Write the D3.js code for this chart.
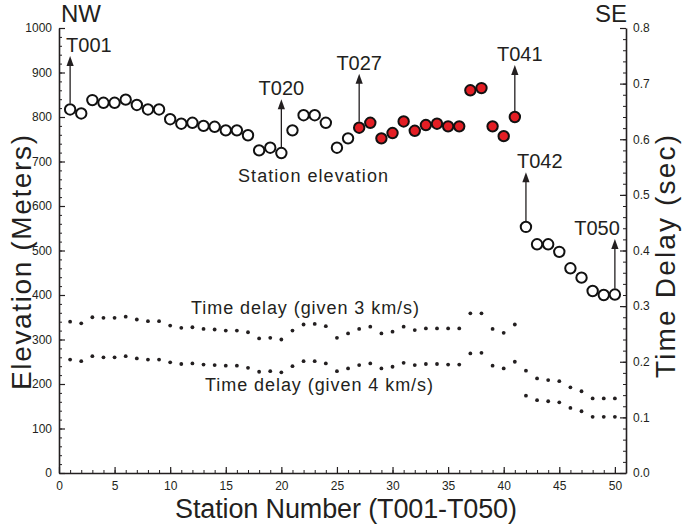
<!DOCTYPE html>
<html><head><meta charset="utf-8">
<script src="https://cdn.jsdelivr.net/npm/d3@7"></script>
<style>body{margin:0;background:#fff}svg{display:block}text{font-family:Arial,"Liberation Sans",sans-serif;fill:#231f20}</style>
</head><body><svg id="c" width="685" height="524"></svg>
<script>
// ---- data ----
const stations = d3.range(1, 51);
const elevation = [817,808,838,832,832,839,827,817,817,795,785,787,780,778,770,770,759,725,731,719,
  770,804,804,787,731,752,776,787,752,764,790,769,782,785,779,779,860,865,779,757,
  800,553,514,514,497,460,439,409,400,401];
const redStations = [27,28,29,30,31,32,33,34,35,36,37,38,39,40,41];
const delay3 = [0.272,0.269,0.280,0.279,0.279,0.281,0.276,0.273,0.273,0.265,0.261,0.262,0.259,0.258,0.256,0.256,0.253,0.242,0.243,0.240,
  0.256,0.267,0.268,0.264,0.243,0.251,0.259,0.263,0.251,0.254,0.263,0.257,0.260,0.260,0.260,0.260,0.287,0.287,0.259,0.252,
  0.267,0.184,0.170,0.167,0.165,0.154,0.147,0.134,0.134,0.134];
const delay4 = [0.204,0.201,0.210,0.208,0.208,0.210,0.206,0.204,0.204,0.199,0.196,0.197,0.195,0.194,0.193,0.193,0.189,0.182,0.183,0.181,
  0.192,0.201,0.201,0.197,0.183,0.188,0.194,0.197,0.188,0.191,0.198,0.194,0.196,0.196,0.195,0.195,0.215,0.216,0.193,0.188,
  0.200,0.139,0.131,0.129,0.127,0.117,0.111,0.101,0.101,0.101];
const annStations = [1,20,27,41,42,50];
const annLabels = ["T001","T020","T027","T041","T042","T050"];
const annTipElev = [937,840,897,917,676,526];
const xTicks = d3.range(0, 51, 5);
const leftTicks = d3.range(0, 1001, 100);
const rightTicks = [0,0.1,0.2,0.3,0.4,0.5,0.6,0.7,0.8];

// ---- layout ----
const svg = d3.select("#c");
const L = 59, R = 626, B = 473, T = 28;
const x = d3.scaleLinear().domain([0, 51]).range([L, R]);
const yL = d3.scaleLinear().domain([0, 1000]).range([B, T]);
const yR = d3.scaleLinear().domain([0, 0.8]).range([B, T]);
const ink = "#231f20";

function styleAxis(g, fs){
  g.selectAll("path.domain").attr("stroke", ink).attr("stroke-width", 1.6);
  g.selectAll(".tick line").attr("stroke", ink).attr("stroke-width", 1.2);
  g.selectAll("text").attr("font-size", fs).attr("fill", ink).attr("font-family", "Arial, 'Liberation Sans', sans-serif");
}
// minor ticks
svg.append("g").attr("transform", `translate(${L},0)`)
  .call(d3.axisLeft(yL).tickValues(d3.range(0,1001,20)).tickSizeInner(-3).tickSizeOuter(0).tickFormat(""))
  .call(g => { g.select(".domain").remove(); g.selectAll("line").attr("stroke", ink); });
svg.append("g").attr("transform", `translate(${R},0)`)
  .call(d3.axisRight(yR).tickValues(d3.range(0,0.8001,0.02)).tickSizeInner(-3).tickSizeOuter(0).tickFormat(""))
  .call(g => { g.select(".domain").remove(); g.selectAll("line").attr("stroke", ink); });
svg.append("g").attr("transform", `translate(0,${B})`)
  .call(d3.axisBottom(x).tickValues(d3.range(0,51,1)).tickSizeInner(-3).tickSizeOuter(0).tickFormat(""))
  .call(g => { g.select(".domain").remove(); g.selectAll("line").attr("stroke", ink); });
// major axes
svg.append("g").attr("transform", `translate(${L},0)`)
  .call(d3.axisLeft(yL).tickValues(leftTicks).tickSizeInner(-6).tickSizeOuter(0).tickPadding(7).tickFormat(d3.format("d")))
  .call(g => styleAxis(g, 12));
svg.append("g").attr("transform", `translate(${R},0)`)
  .call(d3.axisRight(yR).tickValues(rightTicks).tickSizeInner(-6).tickSizeOuter(0).tickPadding(7).tickFormat(d3.format(".1f")))
  .call(g => styleAxis(g, 12));
svg.append("g").attr("transform", `translate(0,${B})`)
  .call(d3.axisBottom(x).tickValues(xTicks).tickSizeInner(-6).tickSizeOuter(0).tickPadding(8).tickFormat(d3.format("d")))
  .call(g => styleAxis(g, 12));

// time delay dots
[delay3, delay4].forEach(arr => {
  svg.append("g").selectAll("circle").data(arr).join("circle")
    .attr("cx", (d,i) => x(stations[i])).attr("cy", d => yR(d)).attr("r", 1.9).attr("fill", ink);
});

// arrows
const annLayout = {
  T001:{anchor:"start", dx:-4}, T020:{anchor:"middle", dx:0}, T027:{anchor:"middle", dx:0},
  T041:{anchor:"middle", dx:5}, T042:{anchor:"start", dx:-9}, T050:{anchor:"end", dx:5}
};
annStations.forEach((s, i) => {
  const cx = x(s), cy = yL(elevation[s-1]), tip = yL(annTipElev[i]);
  svg.append("line").attr("x1", cx).attr("x2", cx).attr("y1", cy - 6).attr("y2", tip + 8)
    .attr("stroke", ink).attr("stroke-width", 1.3);
  svg.append("path").attr("d", `M${cx},${tip} L${cx-3.6},${tip+10} L${cx+3.6},${tip+10} Z`).attr("fill", ink);
  const lay = annLayout[annLabels[i]];
  svg.append("text").attr("x", cx + lay.dx).attr("y", tip - 4).attr("text-anchor", lay.anchor)
    .attr("font-size", 20).text(annLabels[i]);
});

// elevation circles
svg.append("g").selectAll("circle").data(elevation).join("circle")
  .attr("cx", (d,i) => x(stations[i])).attr("cy", d => yL(d)).attr("r", 5.2)
  .attr("fill", (d,i) => redStations.includes(stations[i]) ? "#e31e24" : "#fff")
  .attr("stroke", "#111").attr("stroke-width", 2);

// text labels
function label(xp, yp, s, fs, len, anchor){
  const t = svg.append("text").attr("x", xp).attr("y", yp).attr("text-anchor", anchor || "start").attr("font-size", fs).text(s);
  if (len) t.attr("textLength", len).attr("lengthAdjust", "spacing");
  return t;
}
label(238, 182, "Station elevation", 18, 150);
label(191, 314, "Time delay (given 3 km/s)", 18, 228);
label(205, 391, "Time delay (given 4 km/s)", 18, 228);
label(61, 22, "NW", 24);
label(627, 22, "SE", 24, null, "end");
label(175, 518, "Station Number (T001-T050)", 27, 342);
svg.append("text").attr("transform", `translate(31,390) rotate(-90)`).attr("font-size", 28)
  .attr("textLength", 255).attr("lengthAdjust", "spacing").text("Elevation (Meters)");
svg.append("text").attr("transform", `translate(675,378) rotate(-90)`).attr("font-size", 28)
  .attr("textLength", 243).attr("lengthAdjust", "spacing").text("Time Delay (sec)");
</script></body></html>
